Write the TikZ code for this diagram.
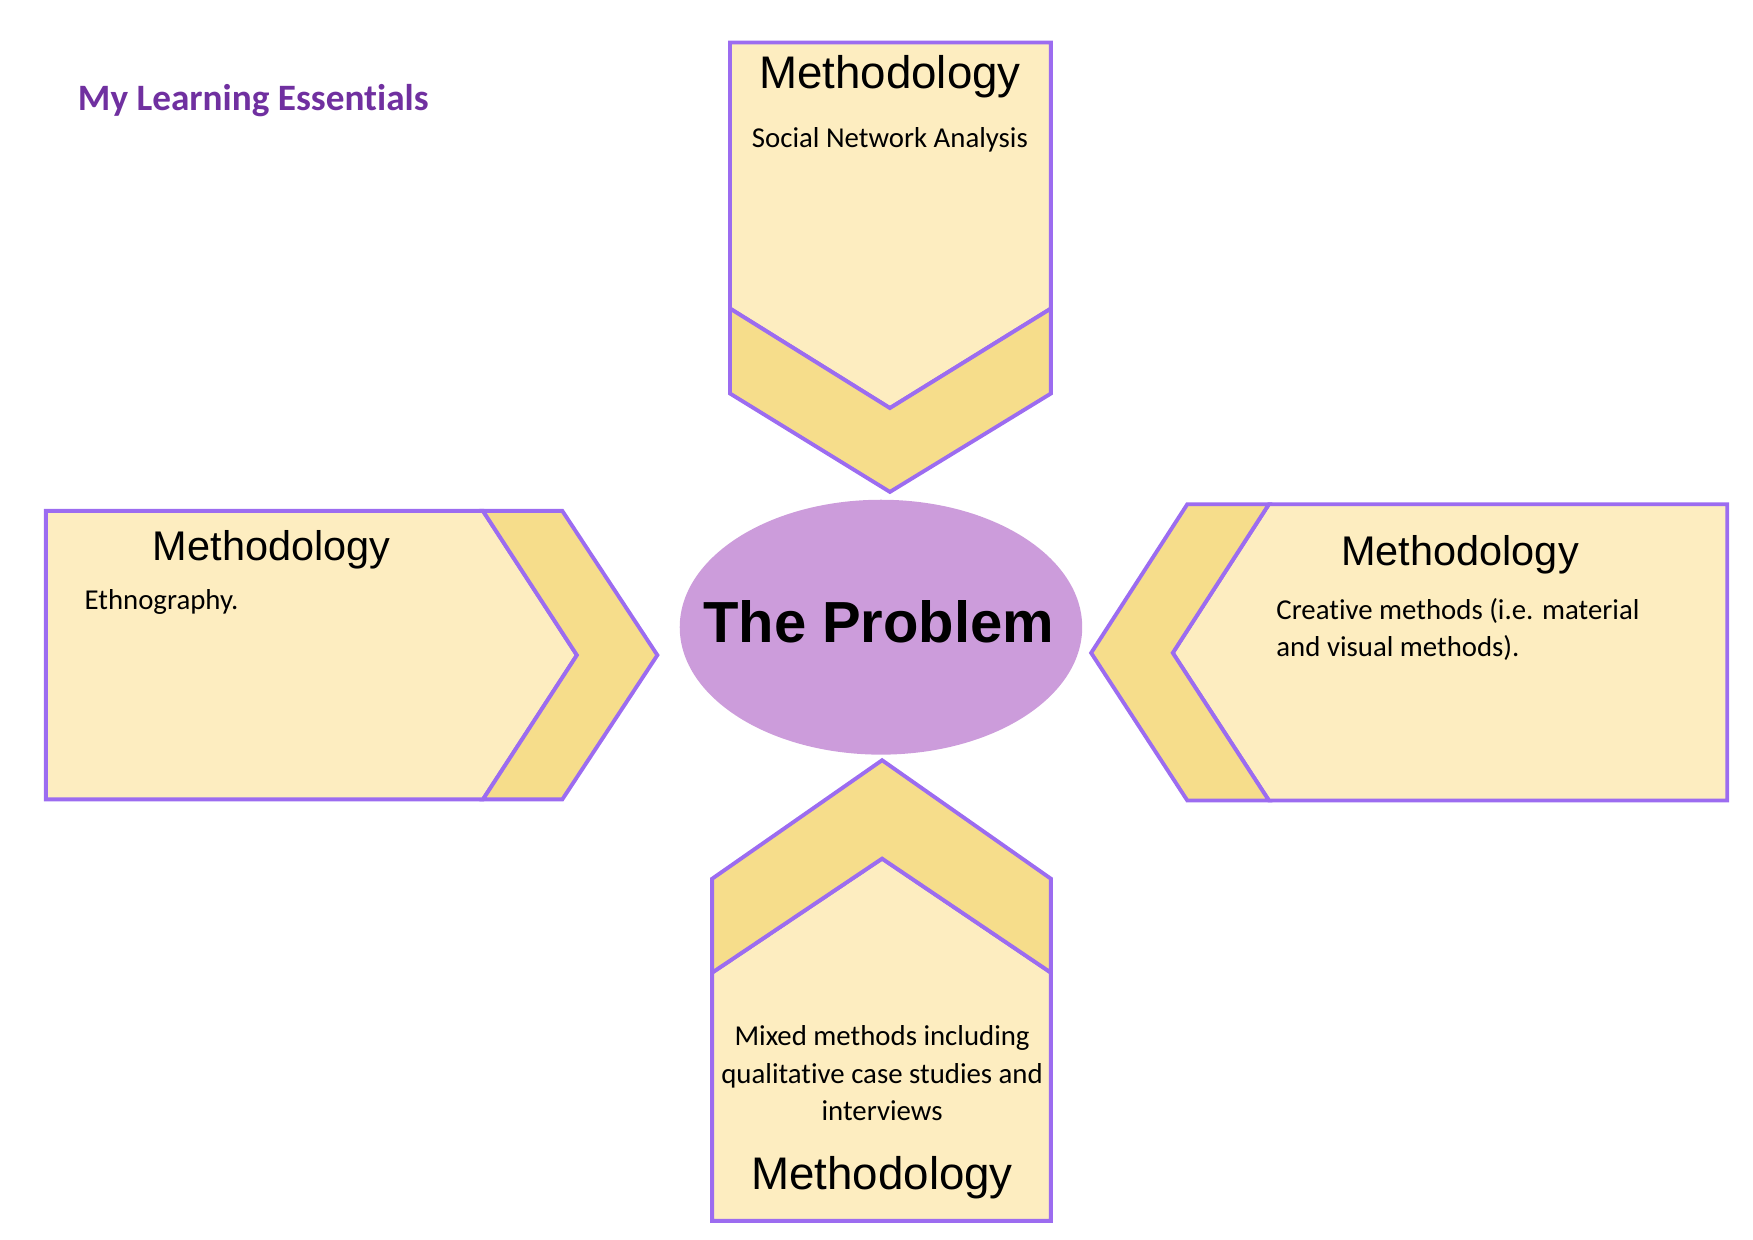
\documentclass[tikz,border=0pt]{standalone}
\usepackage{fontspec}
\setmainfont{Carlito}[RawFeature={-liga;-calt;-dlig;-clig}]
\newfontfamily\headfont{Liberation Sans}
\usepackage{tikz}

\definecolor{paleyellow}{HTML}{FDEDC0}
\definecolor{darkyellow}{HTML}{F6DD8B}
\definecolor{edgepurple}{HTML}{9C6CF0}
\definecolor{lilac}{HTML}{CC9CDB}
\definecolor{mlepurple}{HTML}{7030A0}

\begin{document}
\begin{tikzpicture}[x=0.01118cm,y=-0.01118cm,line width=1.1pt,
		body/.style={draw=edgepurple,fill=paleyellow},
		band/.style={draw=edgepurple,fill=darkyellow},
		head/.style={font=\headfont\fontsize{13}{15}\selectfont,inner sep=0pt},
		side head/.style={font=\headfont\fontsize{11.8}{14}\selectfont,inner sep=0pt},
		note/.style={font=\fontsize{8.2}{10.6}\selectfont,inner sep=0pt}]

		\useasboundingbox (0,0) rectangle (1568,1109);

		% top
		\filldraw[body] (653,38) -- (940,38) -- (940,276) -- (796,365) -- (653,276) -- cycle;
		\filldraw[band] (653,276) -- (796,365) -- (940,276) -- (940,352) -- (796,440) -- (653,352) -- cycle;
		\node[head] (tophead) at (796,69) {Methodology};
		\node[note] (toptext) at (796,125) {Social Network Analysis};

		% left
		\filldraw[body] (41,457) -- (432,457) -- (516,586) -- (432,715) -- (41,715) -- cycle;
		\filldraw[band] (432,457) -- (503,457) -- (588,586) -- (503,715) -- (432,715) -- (516,586) -- cycle;
		\node[side head] (lefthead) at (243,492) {Methodology};
		\node[note,anchor=west] (lefttext) at (74,538) {Ethnography.};

		% right
		\filldraw[body] (1135,451) -- (1545,451) -- (1545,716) -- (1135,716) -- (1049,584) -- cycle;
		\filldraw[band] (1062,451) -- (1135,451) -- (1049,584) -- (1135,716) -- (1062,716) -- (976,584) -- cycle;
		\node[side head] (righthead) at (1306,496) {Methodology};
		\node[note,anchor=west,align=left] (righttext) at (1140,563) {Creative methods (i.e. material\\and visual methods).};

		% bottom
		\filldraw[body] (637,870) -- (789,768) -- (940,870) -- (940,1092) -- (637,1092) -- cycle;
		\filldraw[band] (637,786) -- (789,680) -- (940,786) -- (940,870) -- (789,768) -- (637,870) -- cycle;
		\node[note,align=center] (bottomtext) at (789,960) {Mixed methods including\\qualitative case studies and\\interviews};
		\node[head] (bottomhead) at (789,1053) {Methodology};

		% centre
		\fill[lilac] (788,561) ellipse [x radius=180, y radius=114];
		\node[inner sep=0pt,font=\headfont\bfseries\fontsize{16.5}{18}\selectfont] (problem) at (786,556) {The Problem};

		\node[anchor=west,inner sep=0pt,text=mlepurple,font=\bfseries\fontsize{10.6}{12}\selectfont] (title) at (68,90) {My Learning Essentials};
	\end{tikzpicture}
\end{document}
